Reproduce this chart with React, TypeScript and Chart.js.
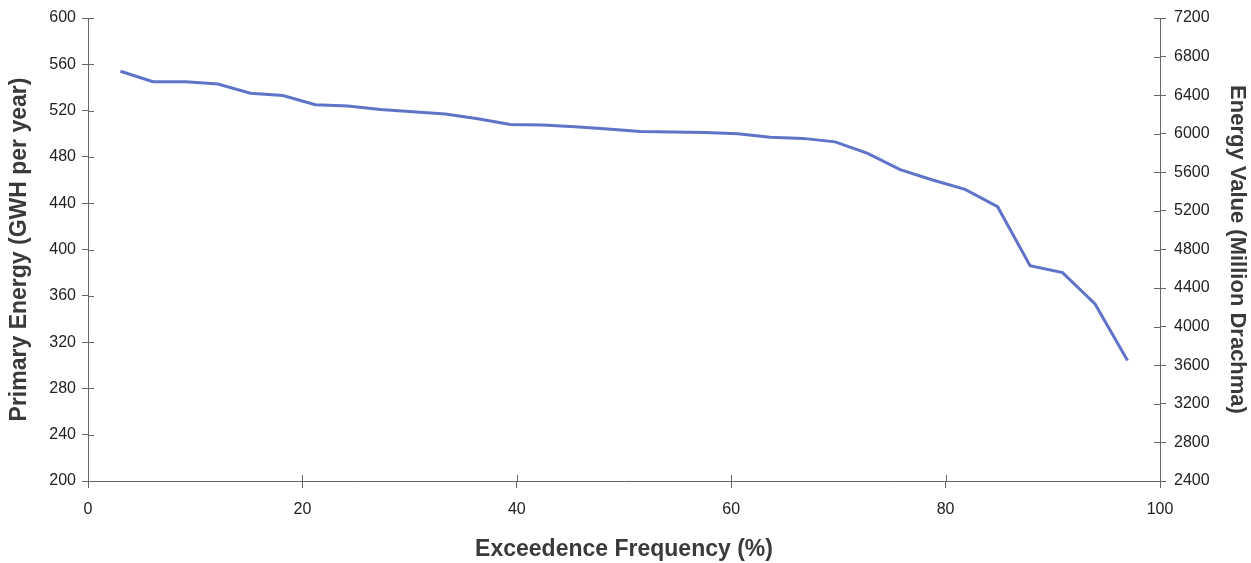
import React, { useEffect, useRef } from "react";
import { Chart, registerables } from "chart.js";

Chart.register(...registerables);

const exceedence = [
  3.03, 6.06, 9.09, 12.12, 15.15, 18.18, 21.21, 24.24, 27.27, 30.3, 33.33, 36.36,
  39.39, 42.42, 45.45, 48.48, 51.52, 54.55, 57.58, 60.61, 63.64, 66.67, 69.7,
  72.73, 75.76, 78.79, 81.82, 84.85, 87.88, 90.91, 93.94, 96.97,
];
const primaryEnergy = [
  554, 545, 545, 543, 535, 533, 525, 524, 521, 519, 517, 513, 508, 507.5, 506,
  504, 502, 501.5, 501, 500, 497, 496, 493, 483, 469, 460, 452, 437, 386, 380,
  353, 304,
];
const leftTicks = [200, 240, 280, 320, 360, 400, 440, 480, 520, 560, 600];
const rightTicks = [2400, 2800, 3200, 3600, 4000, 4400, 4800, 5200, 5600, 6000, 6400, 6800, 7200];
const xTicks = [0, 20, 40, 60, 80, 100];

const crossTicks = {
  id: "crossTicks",
  afterDraw(chart: any) {
    const { ctx, chartArea, scales } = chart;
    ctx.save();
    ctx.strokeStyle = "#666";
    ctx.lineWidth = 1;
    const len = 6;
    scales.y.ticks.forEach((t: any) => {
      const p = Math.round(scales.y.getPixelForValue(t.value)) + 0.5;
      ctx.beginPath();
      ctx.moveTo(chartArea.left, p);
      ctx.lineTo(chartArea.left + len, p);
      ctx.stroke();
    });
    scales.y1.ticks.forEach((t: any) => {
      const p = Math.round(scales.y1.getPixelForValue(t.value)) + 0.5;
      ctx.beginPath();
      ctx.moveTo(chartArea.right, p);
      ctx.lineTo(chartArea.right - len, p);
      ctx.stroke();
    });
    scales.x.ticks.forEach((t: any) => {
      const p = Math.round(scales.x.getPixelForValue(t.value)) + 0.5;
      ctx.beginPath();
      ctx.moveTo(p, chartArea.bottom);
      ctx.lineTo(p, chartArea.bottom - len);
      ctx.stroke();
    });
    ctx.restore();
  },
};

export default function App() {
  const ref = useRef<HTMLCanvasElement>(null);
  useEffect(() => {
    if (!ref.current) return;
    const fam = "'Liberation Sans', Arial, sans-serif";
    const tickFont = { family: fam, size: 16 };
    const plain = (v: any) => String(v);
    const chart = new Chart(ref.current, {
      type: "line",
      data: {
        datasets: [
          {
            data: exceedence.map((x, i) => ({ x, y: primaryEnergy[i] })),
            borderColor: "#5f74c9",
            borderWidth: 3,
            pointRadius: 0,
            tension: 0,
            yAxisID: "y",
          },
        ],
      },
      plugins: [crossTicks],
      options: {
        animation: false,
        responsive: false,
        maintainAspectRatio: false,
        layout: { padding: { top: 18, left: 0, right: 0, bottom: 0 } },
        plugins: { legend: { display: false }, tooltip: { enabled: false } },
        scales: {
          x: {
            type: "linear",
            min: 0,
            max: 100,
            afterFit: (s: any) => { s.height = 82; },
            afterBuildTicks: (s: any) => { s.ticks = xTicks.map((v) => ({ value: v })); },
            grid: { drawOnChartArea: false, tickLength: 7, color: "#666" },
            border: { color: "#666", width: 1 },
            ticks: { color: "#222", font: tickFont, padding: 12, maxRotation: 0, callback: plain },
            title: { display: true, text: "Exceedence Frequency (%)", color: "#3a3a3a", font: { family: fam, size: 23, weight: "bold" }, padding: { top: 6, bottom: 0 } },
          },
          y: {
            type: "linear",
            position: "left",
            min: 200,
            max: 600,
            afterFit: (s: any) => { s.width = 88; },
            afterBuildTicks: (s: any) => { s.ticks = leftTicks.map((v) => ({ value: v })); },
            grid: { drawOnChartArea: false, tickLength: 6, color: "#666" },
            border: { color: "#666", width: 1 },
            ticks: { color: "#222", font: tickFont, padding: 6, callback: plain },
            title: { display: true, text: "Primary Energy (GWH per year)", color: "#3a3a3a", font: { family: fam, size: 23, weight: "bold" }, padding: { top: 6, bottom: 4 } },
          },
          y1: {
            type: "linear",
            position: "right",
            min: 2400,
            max: 7200,
            afterFit: (s: any) => { s.width = 91; },
            afterBuildTicks: (s: any) => { s.ticks = rightTicks.map((v) => ({ value: v })); },
            grid: { drawOnChartArea: false, tickLength: 6, color: "#666" },
            border: { color: "#666", width: 1 },
            ticks: { color: "#222", font: tickFont, padding: 8, callback: plain },
            title: { display: true, text: "Energy Value (Million Drachma)", color: "#3a3a3a", font: { family: fam, size: 22, weight: "bold" }, padding: { top: 1, bottom: 0 } },
          },
        },
      },
    });
    return () => chart.destroy();
  }, []);
  return (
    <div style={{ position: "fixed", left: 0, top: 0, width: 1251, height: 563, background: "#fff" }}>
      <canvas ref={ref} width={1251} height={563} style={{ width: 1251, height: 563 }} />
    </div>
  );
}
